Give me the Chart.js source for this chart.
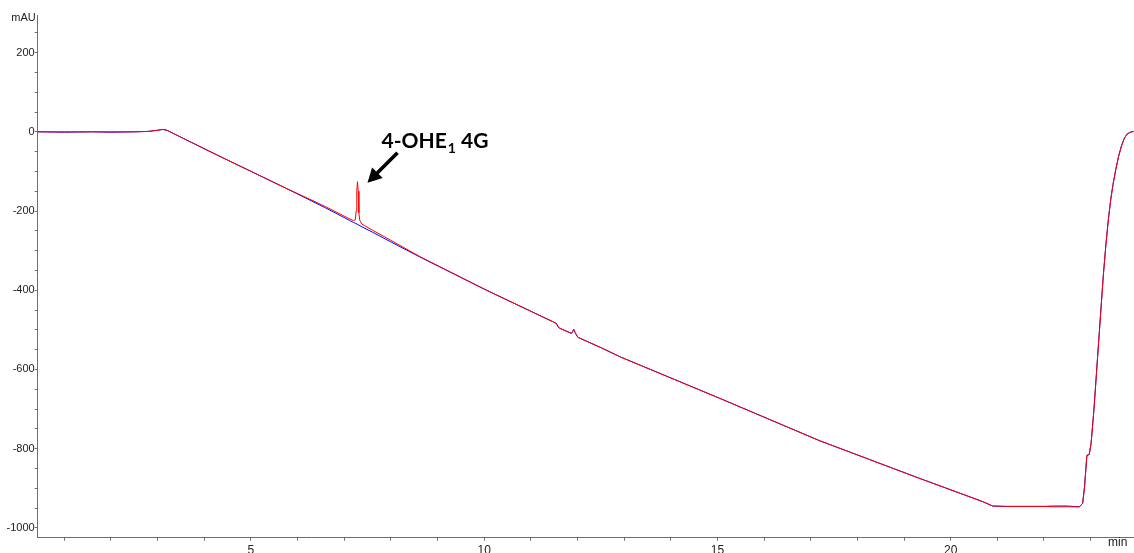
<!DOCTYPE html>
<html>
<head>
<meta charset="utf-8">
<script src="https://cdn.jsdelivr.net/npm/chart.js@4/dist/chart.umd.min.js"></script>
<style>
  html, body { margin: 0; padding: 0; background: #ffffff; }
  #wrap { width: 1134px; height: 553px; position: relative; }
</style>
</head>
<body>
<div id="wrap"><canvas id="chrom" width="1134" height="553"></canvas></div>
<script>
// Retention time (min) shared by both traces
const timeMin = [0.43, 1.0, 1.6, 2.0, 2.5, 2.8, 3.0, 3.11, 3.2, 3.335, 4.265, 5.69, 6.0, 6.6,
  7.12, 7.2, 7.24, 7.255, 7.27, 7.285, 7.30, 7.315, 7.335, 7.38, 7.6, 8.0, 8.62, 10.05,
  11.48, 11.55, 11.58, 11.62, 11.87, 11.90, 11.92, 11.95, 12.01, 12.54, 12.91, 15.05,
  17.19, 19.33, 20.69, 20.90, 21.2, 22.0, 22.2, 22.5, 22.76, 22.83, 22.87, 22.92, 22.97,
  23.01, 23.07, 23.12, 23.17, 23.22, 23.27, 23.33, 23.38, 23.43, 23.48, 23.54, 23.60,
  23.66, 23.72, 23.78, 23.85, 23.92];

// Blank run (blue), absorbance in mAU
const blankTrace = [0, -1, 0, -1, 0, 1, 4, 6, 4, -4, -58, -139, -157, -192,
  -224, -229, -231, -232, -233, -234, -235, -236, -237, -240, -253, -278, -316, -400,
  -480, -484, -492, -496, -509, -504, -499, -507, -519, -547, -568, -673,
  -780, -875, -934, -945, -946, -946, -945, -945, -947, -938, -896, -817, -815,
  -787, -703, -619, -534, -450, -366, -282, -222, -172, -133, -95, -62,
  -36, -17, -6, -1, 1];

// Sample run (red), absorbance in mAU
const sampleTrace = [0, 0, 0, 0, 0, 1, 4, 6, 4, -4, -58, -139, -156, -189,
  -220, -224, -222, -200, -150, -126, -150, -205, -224, -233, -248, -274, -315, -400,
  -480, -484, -492, -496, -509, -504, -499, -507, -519, -547, -568, -673,
  -780, -875, -934, -945, -946, -946, -947, -947, -947, -938, -896, -817, -815,
  -787, -703, -619, -534, -450, -366, -282, -222, -172, -133, -95, -62,
  -36, -17, -6, -1, 1];

// Axis labels
const xTickLabels = [5, 10, 15, 20];
const yTickLabels = [200, 0, -200, -400, -600, -800, -1000];

// Labelled peak
const peakName = ['4-OHE', '1', ' 4G'];
const peakTime = 7.285;
const peakValue = -126;

const toPoints = (xs, ys) => xs.map((x, i) => ({ x: x, y: ys[i] }));

const axisColor = '#6e6e6e';
const labelFont = { family: "'Liberation Sans', Arial, sans-serif", size: 11 };

// Unit captions and the peak annotation with its arrow
const captions = {
  id: 'captions',
  afterDraw(chart) {
    const ctx = chart.ctx;
    const xs = chart.scales.x, ys = chart.scales.y;
    ctx.save();
    ctx.fillStyle = '#222';
    ctx.font = "11px 'Liberation Sans', Arial, sans-serif";
    ctx.textBaseline = 'middle';
    ctx.textAlign = 'right';
    ctx.fillText('mAU', xs.left - 2, 18);
    ctx.textAlign = 'left';
    ctx.font = "12px 'Liberation Sans', Arial, sans-serif";
    ctx.fillText('min', 1108, 543);

    const px = xs.getPixelForValue(peakTime);
    const py = ys.getPixelForValue(peakValue);

    // arrow
    const tipX = px + 10, tipY = py + 1;
    const tailX = px + 40, tailY = py - 29;
    const ang = Math.atan2(tipY - tailY, tipX - tailX);
    const headLen = 14, headHalf = 7.5;
    const baseX = tipX - headLen * Math.cos(ang), baseY = tipY - headLen * Math.sin(ang);
    ctx.strokeStyle = '#000';
    ctx.lineWidth = 3.6;
    ctx.beginPath();
    ctx.moveTo(tailX, tailY);
    ctx.lineTo(baseX + 2 * Math.cos(ang), baseY + 2 * Math.sin(ang));
    ctx.stroke();
    ctx.fillStyle = '#000';
    ctx.beginPath();
    ctx.moveTo(tipX, tipY);
    ctx.lineTo(baseX + headHalf * Math.sin(ang), baseY - headHalf * Math.cos(ang));
    ctx.lineTo(baseX - headHalf * Math.sin(ang), baseY + headHalf * Math.cos(ang));
    ctx.closePath();
    ctx.fill();

    // label text
    let tx = px + 24;
    const base = py - 34;
    ctx.textBaseline = 'alphabetic';
    ctx.textAlign = 'left';
    ctx.font = "bold 21px Lato, 'Open Sans', sans-serif";
    ctx.fillText(peakName[0], tx, base);
    tx += ctx.measureText(peakName[0]).width + 1;
    ctx.font = "bold 14px Lato, 'Open Sans', sans-serif";
    ctx.fillText(peakName[1], tx, base + 5);
    tx += ctx.measureText(peakName[1]).width;
    ctx.font = "bold 21px Lato, 'Open Sans', sans-serif";
    ctx.fillText(peakName[2], tx, base);
    ctx.restore();
  }
};

new Chart(document.getElementById('chrom'), {
  type: 'line',
  data: {
    datasets: [
      {
        label: 'Sample',
        data: toPoints(timeMin, sampleTrace),
        borderColor: '#ff0000',
        borderWidth: 1,
        pointRadius: 0,
        tension: 0,
        order: 0
      },
      {
        label: 'Blank',
        data: toPoints(timeMin, blankTrace),
        borderColor: '#0000ff',
        borderWidth: 1,
        pointRadius: 0,
        tension: 0,
        order: 1
      }
    ]
  },
  options: {
    responsive: false,
    animation: false,
    events: [],
    layout: { padding: { top: 15, right: 0, left: 0, bottom: 0 } },
    plugins: { legend: { display: false }, tooltip: { enabled: false } },
    scales: {
      x: {
        type: 'linear',
        min: 0.43,
        max: 23.93,
        afterFit(scale) { scale.height = 15.3; },
        border: { display: true, color: axisColor, width: 1 },
        grid: { display: true, drawOnChartArea: false, drawTicks: true, tickLength: 3, color: axisColor },
        ticks: {
          stepSize: 1,
          includeBounds: false,
          autoSkip: false,
          maxRotation: 0,
          padding: 3,
          color: '#222',
          font: { family: "'Liberation Sans', Arial, sans-serif", size: 12 },
          callback: (v) => xTickLabels.includes(Math.round(v * 1000) / 1000) ? String(v) : ''
        }
      },
      y: {
        type: 'linear',
        min: -1025,
        max: 295,
        afterFit(scale) { scale.width = 37.7; },
        border: { display: true, color: axisColor, width: 1 },
        grid: { display: true, drawOnChartArea: false, drawTicks: true, tickLength: 3, color: axisColor },
        ticks: {
          stepSize: 50,
          includeBounds: false,
          autoSkip: false,
          padding: 0,
          color: '#222',
          font: labelFont,
          callback: (v) => yTickLabels.includes(Math.round(v)) ? String(v) : ''
        }
      }
    }
  },
  plugins: [captions]
});
</script>
</body>
</html>
